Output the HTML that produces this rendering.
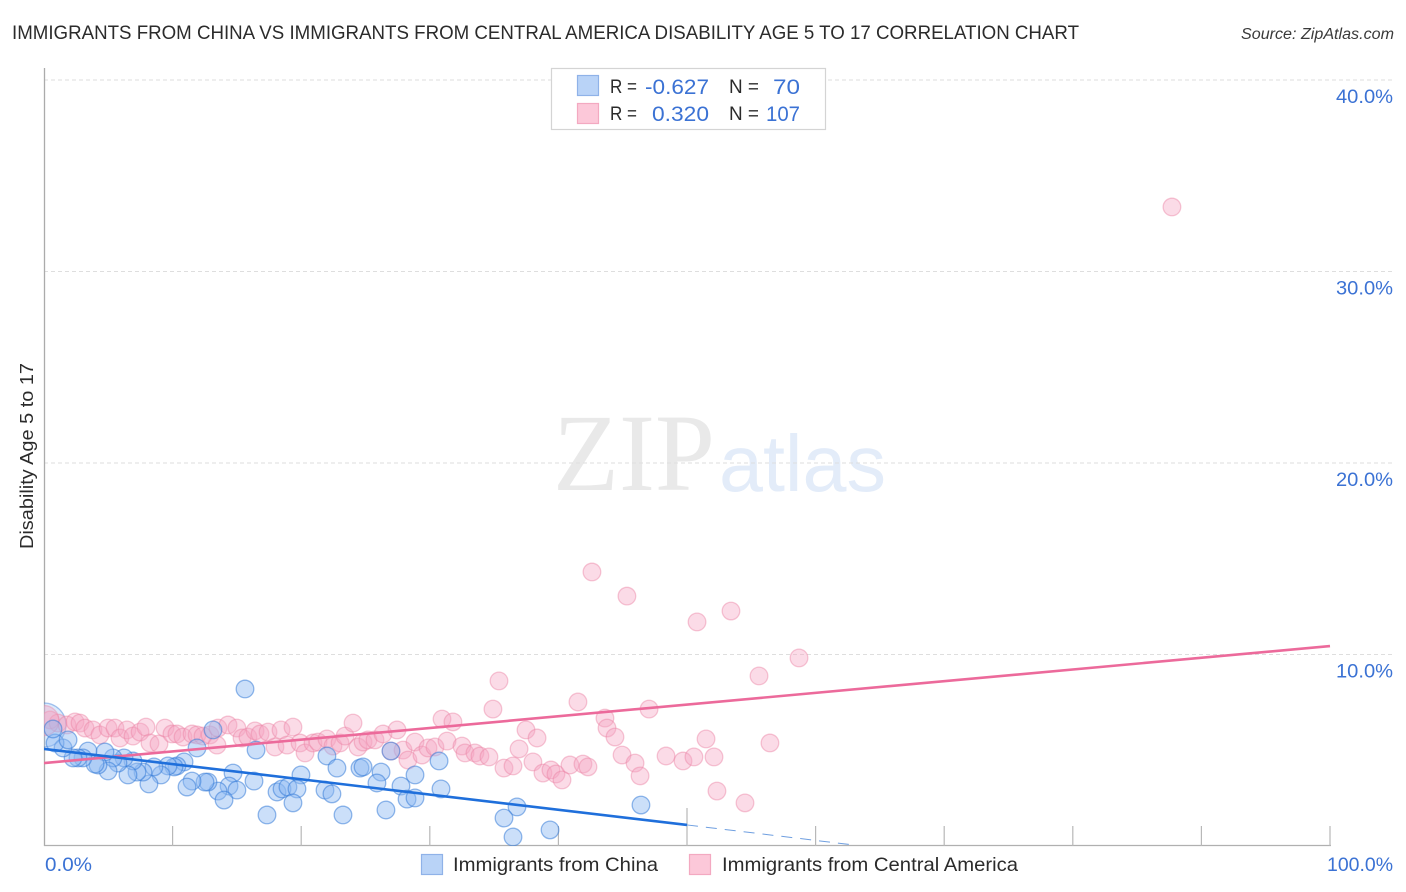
<!DOCTYPE html>
<html>
<head>
<meta charset="utf-8">
<title>Immigrants from China vs Immigrants from Central America Disability Age 5 to 17 Correlation Chart</title>
<style>
html,body{margin:0;padding:0;background:#fff;width:1406px;height:892px;overflow:hidden}
svg{display:block}
text{font-family:"Liberation Sans",sans-serif}
</style>
</head>
<body>
<svg id="chart" xmlns="http://www.w3.org/2000/svg" width="1406" height="892" viewBox="0 0 1406 892">
  <rect x="0" y="0" width="1406" height="892" fill="#fff"/>
  <text x="12" y="39" font-size="19.5" fill="#2b2b2b" textLength="1067" lengthAdjust="spacingAndGlyphs">IMMIGRANTS FROM CHINA VS IMMIGRANTS FROM CENTRAL AMERICA DISABILITY AGE 5 TO 17 CORRELATION CHART</text>
  <text x="1241" y="39" font-size="15.5" font-style="italic" fill="#3a3a3a" textLength="153" lengthAdjust="spacingAndGlyphs">Source: ZipAtlas.com</text>
  <g>
    <text x="553" y="490" font-size="110" fill="#e9e9e9" style="font-family:'Liberation Serif',serif" textLength="162" lengthAdjust="spacingAndGlyphs">ZIP</text>
    <text x="719" y="491" font-size="80" fill="#e3ecf9" textLength="167" lengthAdjust="spacingAndGlyphs">atlas</text>
  </g>
  <g id="grid"></g>
  <g id="axes"></g>
  <defs>
    <clipPath id="plot-clip"><rect x="44" y="60" width="1350" height="786"/></clipPath>
  </defs>
  <g id="points" clip-path="url(#plot-clip)"></g>
  <g id="trends" clip-path="url(#plot-clip)"></g>
  <g id="ylabels"></g>
  <text transform="translate(33,549) rotate(-90)" font-size="18" fill="#2b2b2b" textLength="186" lengthAdjust="spacingAndGlyphs">Disability Age 5 to 17</text>
  <text x="45" y="871" font-size="19" fill="#3b72d4" textLength="47" lengthAdjust="spacingAndGlyphs">0.0%</text>
  <text x="1327" y="871" font-size="19" fill="#3b72d4" textLength="66" lengthAdjust="spacingAndGlyphs">100.0%</text>

  <g>
    <rect x="551.5" y="68.5" width="274" height="61" fill="#fff" stroke="#d4d4d4" stroke-width="1.2"/>
    <rect x="577.5" y="75.5" width="21" height="20" fill="#b9d3f7" stroke="#8fb2e8" stroke-width="1.2"/>
    <rect x="577.5" y="103.5" width="21" height="20" fill="#fcc8d9" stroke="#f3a9c1" stroke-width="1.2"/>
    <text x="610" y="93" font-size="19" fill="#2b2b2b" textLength="27" lengthAdjust="spacingAndGlyphs">R =</text>
    <text x="645" y="94" font-size="21.5" fill="#3b72d4" textLength="64" lengthAdjust="spacingAndGlyphs">-0.627</text>
    <text x="729" y="93" font-size="19" fill="#2b2b2b" textLength="30" lengthAdjust="spacingAndGlyphs">N =</text>
    <text x="773" y="94" font-size="21.5" fill="#3b72d4" textLength="27" lengthAdjust="spacingAndGlyphs">70</text>
    <text x="610" y="120" font-size="19" fill="#2b2b2b" textLength="27" lengthAdjust="spacingAndGlyphs">R =</text>
    <text x="652" y="121" font-size="21.5" fill="#3b72d4" textLength="57" lengthAdjust="spacingAndGlyphs">0.320</text>
    <text x="729" y="120" font-size="19" fill="#2b2b2b" textLength="30" lengthAdjust="spacingAndGlyphs">N =</text>
    <text x="766" y="121" font-size="21.5" fill="#3b72d4" textLength="34" lengthAdjust="spacingAndGlyphs">107</text>
  </g>

  <g>
    <rect x="421.5" y="854.5" width="21" height="20" fill="#b9d3f7" stroke="#8fb2e8" stroke-width="1.2"/>
    <text x="453" y="871" font-size="19.5" fill="#2b2b2b" textLength="205" lengthAdjust="spacingAndGlyphs">Immigrants from China</text>
    <rect x="689.5" y="854.5" width="21" height="20" fill="#fcc8d9" stroke="#f3a9c1" stroke-width="1.2"/>
    <text x="722" y="871" font-size="19.5" fill="#2b2b2b" textLength="296" lengthAdjust="spacingAndGlyphs">Immigrants from Central America</text>
  </g>
</svg>
<script>
const yTicks = [10, 20, 30, 40];
const yTickLabels = ["10.0%", "20.0%", "30.0%", "40.0%"];
const xTicks = [0, 10, 20, 30, 40, 50, 60, 70, 80, 90, 100];

const chinaX = [15.63,13.14,11.9,16.49,22.0,22.78,24.57,19.98,14.7,16.33,14.39,15.0,13.53,14.0,12.75,12.52,11.51,11.12,10.89,10.34,10.11,9.64,9.1,8.55,8.16,7.7,7.23,6.92,6.53,6.22,5.75,5.37,4.74,4.98,4.2,3.97,3.42,3.03,2.64,2.26,1.48,0.86,1.87,0.7,18.12,18.51,18.97,19.67,19.36,21.85,22.39,17.34,23.25,24.81,26.21,25.89,26.98,28.85,27.76,28.23,28.85,30.72,30.87,26.59,36.78,35.77,36.47,39.35,46.42];
const chinaY = [8.2,6.06,5.12,5.01,4.7,4.07,4.07,3.71,3.81,3.39,3.13,2.92,2.87,2.4,3.34,3.34,3.39,3.08,4.39,4.18,4.13,4.18,3.71,4.13,3.24,3.86,3.86,4.44,3.71,4.6,4.33,4.6,4.91,3.92,4.23,4.28,4.96,4.6,4.6,4.6,5.12,5.38,5.54,6.11,2.82,2.98,3.08,2.98,2.25,2.92,2.72,1.62,1.62,4.13,3.86,3.29,4.96,3.71,3.13,2.45,2.51,4.44,2.98,1.88,2.04,1.46,0.47,0.84,2.14];
const chinaHubX = [0];
const chinaHubY = [6.32];

const centralX = [0.47,1.09,1.79,2.41,2.8,3.19,3.81,4.35,4.98,5.52,5.91,6.45,6.92,7.47,7.93,8.24,8.94,9.41,9.95,10.34,10.81,11.51,11.9,12.36,12.91,13.45,13.53,14.31,15.0,15.4,15.86,16.41,16.8,17.42,17.96,18.43,18.9,19.36,19.91,20.3,20.92,21.31,22.0,22.47,23.02,23.41,24.03,24.42,24.81,25.19,25.74,26.36,27.45,26.98,27.92,28.3,28.85,29.39,29.86,30.4,31.34,30.95,31.8,32.5,32.74,33.51,33.9,34.6,34.91,35.38,35.77,36.47,36.94,37.48,38.34,38.02,38.8,39.42,39.81,40.28,40.9,41.91,42.3,41.52,43.62,43.78,44.4,44.95,45.96,46.35,47.05,48.37,49.69,50.54,51.48,52.1,52.33,54.51,55.6,56.45,58.71,42.61,45.33,50.78,53.42,87.71];
const centralY = [6.58,6.42,6.32,6.48,6.42,6.16,6.06,5.8,6.16,6.16,5.64,6.06,5.74,5.95,6.21,5.38,5.33,6.16,5.85,5.85,5.69,5.85,5.8,5.74,5.8,5.27,6.16,6.32,6.16,5.64,5.69,6.01,5.85,5.95,5.17,6.06,5.27,6.21,5.38,4.86,5.38,5.43,5.59,5.22,5.38,5.74,6.42,5.17,5.43,5.54,5.54,5.85,6.06,4.96,5.01,4.49,5.43,4.75,5.12,5.17,5.48,6.63,6.48,5.22,4.86,4.86,4.7,4.65,7.15,8.62,4.07,4.18,5.07,6.06,5.64,4.39,3.81,3.97,3.76,3.45,4.23,4.28,4.13,7.52,6.68,6.16,5.69,4.75,4.33,3.66,7.15,4.7,4.44,4.65,5.59,4.65,2.87,2.25,8.88,5.38,9.82,14.31,13.05,11.7,12.27,33.37];
const centralHubX = [0];
const centralHubY = [6.55];

const chinaTrendX = [0, 50];
const chinaTrendY = [5.07, 1.1];
const chinaTrendDashX = [50, 63];
const chinaTrendDashY = [1.1, 0.05];
const centralTrendX = [0, 100];
const centralTrendY = [4.33, 10.44];

const NS = "http://www.w3.org/2000/svg";
function xScale(v) { return 44 + v * 12.86; }
function yScale(v) { return 846 - v * 19.15; }

function make(tag, parent, attrs) {
  const el = document.createElementNS(NS, tag);
  for (const k in attrs) el.setAttribute(k, attrs[k]);
  parent.appendChild(el);
  return el;
}

const grid = document.getElementById("grid");
const axes = document.getElementById("axes");
const ylabels = document.getElementById("ylabels");
const points = document.getElementById("points");
const trends = document.getElementById("trends");

yTicks.forEach(function (t, i) {
  const line = make("line", grid, {x1: 44, x2: 1394, y1: yScale(t), y2: yScale(t), stroke: "#dedede", "stroke-width": 1, "stroke-dasharray": "4 3"});
  
  
  const label = make("text", ylabels, {x: 1393, y: yScale(t) + 23, "text-anchor": "end", "font-size": 19, fill: "#3b72d4", textLength: 57, lengthAdjust: "spacingAndGlyphs"});
  label.textContent = yTickLabels[i];
  
  
});

const yAxis = make("line", axes, {x1: 44.5, x2: 44.5, y1: 68, y2: 846, stroke: "#ababab", "stroke-width": 1.3});


const xAxis = make("line", axes, {x1: 44, x2: 1331, y1: 845.5, y2: 845.5, stroke: "#b0b0b0", "stroke-width": 1.3});



xTicks.forEach(function (t) {
  if (t === 0) return;
  const top = t === 50 ? 808 : 826;
  const tick = make("line", axes, {x1: xScale(t), x2: xScale(t), y1: top, y2: 846, stroke: "#b8b8b8", "stroke-width": 1.2});
  
  
});

const pinkStyle = {fill: "rgba(246,165,195,0.40)", stroke: "rgba(236,130,165,0.45)", "stroke-width": 1.3};
const blueStyle = {fill: "rgba(140,185,242,0.45)", stroke: "rgba(50,120,215,0.52)", "stroke-width": 1.3};

function drawPoint(px, py, r, style, parent) {
  const attrs = {cx: xScale(px), cy: yScale(py), r: r};
  for (const k in style) attrs[k] = style[k];
  return make("circle", parent, attrs);
}

chinaHubX.forEach(function (v, i) {
  const c = drawPoint(v, chinaHubY[i], 22, {fill: "rgba(140,185,242,0.30)", stroke: "rgba(50,120,215,0.42)", "stroke-width": 1.3}, points);
  
  
});
centralX.forEach(function (v, i) {
  const c = drawPoint(v, centralY[i], 8.8, pinkStyle, points);
  
  
});
centralHubX.forEach(function (v, i) {
  const c = drawPoint(v, centralHubY[i], 15, {fill: "rgba(246,165,195,0.38)", stroke: "rgba(236,130,165,0.42)", "stroke-width": 1.3}, points);
  
  
});
chinaX.forEach(function (v, i) {
  const c = drawPoint(v, chinaY[i], 8.8, blueStyle, points);
  
  
});

const pinkLine = make("line", trends, {x1: xScale(centralTrendX[0]), y1: yScale(centralTrendY[0]), x2: xScale(centralTrendX[1]), y2: yScale(centralTrendY[1]), stroke: "#ec6a9b", "stroke-width": 2.6});


const blueLine = make("line", trends, {x1: xScale(chinaTrendX[0]), y1: yScale(chinaTrendY[0]), x2: xScale(chinaTrendX[1]), y2: yScale(chinaTrendY[1]), stroke: "#1f6fdb", "stroke-width": 2.6});


const blueDash = make("line", trends, {x1: xScale(chinaTrendDashX[0]), y1: yScale(chinaTrendDashY[0]), x2: xScale(chinaTrendDashX[1]), y2: yScale(chinaTrendDashY[1]), stroke: "#6f9fe0", "stroke-width": 1, "stroke-dasharray": "11 8"});


</script>
</body>
</html>
